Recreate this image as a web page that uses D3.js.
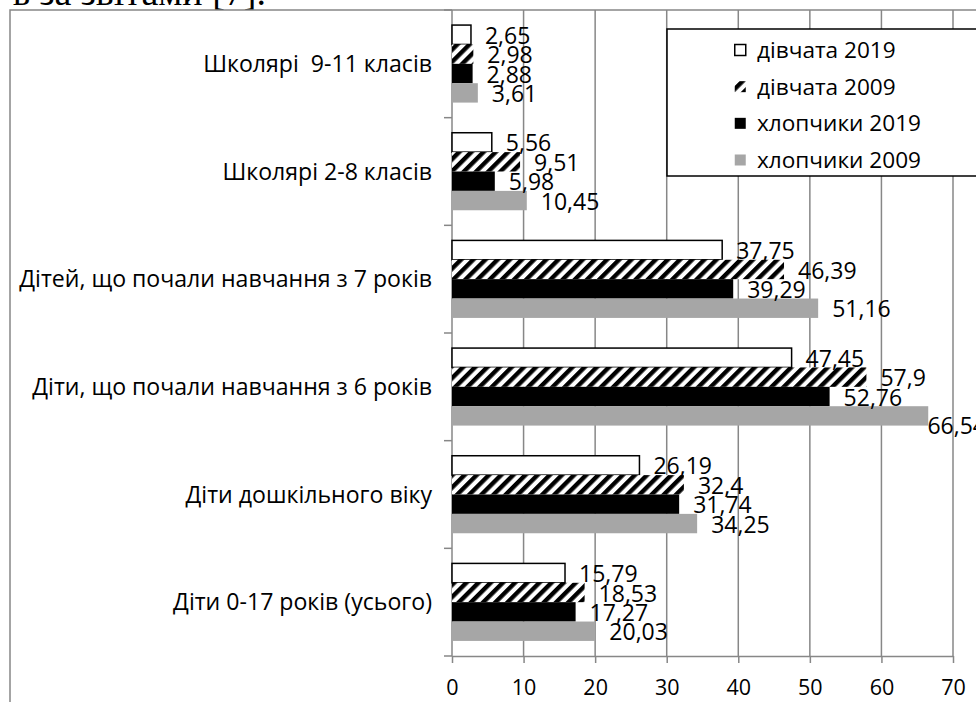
<!DOCTYPE html>
<html>
<head>
<meta charset="utf-8">
<script src="https://cdn.jsdelivr.net/npm/d3@7"></script>
<style>
  body { margin: 0; background: #fff; }
  svg { display: block; }
</style>
</head>
<body>
<script>
// Age / schooling groups, top to bottom
const categories = [
  "Школярі  9-11 класів",
  "Школярі 2-8 класів",
  "Дітей, що почали навчання з 7 років",
  "Діти, що почали навчання з 6 років",
  "Діти дошкільного віку",
  "Діти 0-17 років (усього)"
];
const seriesNames = ["дівчата 2019", "дівчата 2009", "хлопчики 2019", "хлопчики 2009"];
const girls2019 = [2.65, 5.56, 37.75, 47.45, 26.19, 15.79];
const girls2009 = [2.98, 9.51, 46.39, 57.9, 32.4, 18.53];
const boys2019  = [2.88, 5.98, 39.29, 52.76, 31.74, 17.27];
const boys2009  = [3.61, 10.45, 51.16, 66.54, 34.25, 20.03];
const xTicks = [0, 10, 20, 30, 40, 50, 60, 70];

const seriesValues = [girls2019, girls2009, boys2019, boys2009];

const W = 976, H = 702;
const plot = { left: 452, right: 953, top: 10, bottom: 656 };
const gridColor = "#878787";
const sansFont = "'Open Sans', 'Noto Sans', sans-serif";
const fmt = v => String(v).replace(".", ",");

const svg = d3.select("body").append("svg")
  .attr("width", W).attr("height", H)
  .attr("viewBox", `0 0 ${W} ${H}`);

// hatch for the "дівчата 2009" series: wide upward diagonal stripes
const defs = svg.append("defs");
const hatch = defs.append("pattern")
  .attr("id", "hatch")
  .attr("patternUnits", "userSpaceOnUse")
  .attr("width", 8.6).attr("height", 8.6)
  .attr("patternTransform", "rotate(45)");
hatch.append("rect").attr("width", 8.6).attr("height", 8.6).attr("fill", "#fff");
hatch.append("rect").attr("width", 4.4).attr("height", 8.6).attr("fill", "#000");

const seriesStyle = [
  { fill: "#fff", stroke: "#000", sw: 1.5 },
  { fill: "url(#hatch)", stroke: "none", sw: 0 },
  { fill: "#000", stroke: "none", sw: 0 },
  { fill: "#a6a6a6", stroke: "none", sw: 0 }
];

// caption text of the page above the chart, mostly clipped by the top edge
svg.append("text")
  .attr("x", 266).attr("y", 5)
  .attr("text-anchor", "end")
  .attr("font-family", "'Liberation Serif', 'DejaVu Serif', serif")
  .attr("font-size", 38)
  .attr("fill", "#000")
  .text("ь за звітами [7].");

// chart frame
svg.append("path")
  .attr("d", `M10,${H} V10 H${W}`)
  .attr("fill", "none")
  .attr("stroke", gridColor)
  .attr("stroke-width", 1.5);

const x = d3.scaleLinear().domain([0, 70]).range([plot.left, plot.right]);
const y = d3.scaleBand().domain(categories)
  .range([plot.top, plot.bottom])
  .paddingInner(0.28).paddingOuter(0.14);
const ySeries = d3.scaleBand().domain(seriesNames).range([0, y.bandwidth()]);

// vertical gridlines
svg.append("g")
  .selectAll("line")
  .data(xTicks.filter(d => d > 0))
  .join("line")
  .attr("x1", d => x(d)).attr("x2", d => x(d))
  .attr("y1", plot.top).attr("y2", plot.bottom)
  .attr("stroke", gridColor).attr("stroke-width", 1.5);

// bottom value axis
const xAxis = svg.append("g")
  .attr("transform", `translate(0,${plot.bottom})`)
  .call(d3.axisBottom(x).tickValues(xTicks).tickSizeInner(7).tickSizeOuter(0).tickPadding(17)
    .tickFormat(d3.format("d")));
xAxis.select(".domain").attr("stroke", gridColor).attr("stroke-width", 1.5);
xAxis.selectAll(".tick line").attr("stroke", gridColor).attr("stroke-width", 1.5);
xAxis.selectAll(".tick text")
  .attr("font-family", sansFont).attr("font-size", 21.5).attr("fill", "#000");

// left category axis with ticks on the group boundaries
const boundaries = d3.range(categories.length + 1).map(i => plot.top + i * y.step());
const yAxis = svg.append("g");
yAxis.append("line")
  .attr("x1", plot.left).attr("x2", plot.left)
  .attr("y1", plot.top).attr("y2", plot.bottom)
  .attr("stroke", gridColor).attr("stroke-width", 1.5);
yAxis.selectAll("line.tk")
  .data(boundaries)
  .join("line").attr("class", "tk")
  .attr("x1", plot.left - 8).attr("x2", plot.left)
  .attr("y1", d => d).attr("y2", d => d)
  .attr("stroke", gridColor).attr("stroke-width", 1.5);
yAxis.selectAll("text")
  .data(categories)
  .join("text")
  .attr("x", plot.left - 20)
  .attr("y", d => y(d) + y.bandwidth() / 2)
  .attr("dy", "0.35em")
  .attr("text-anchor", "end")
  .attr("font-family", sansFont).attr("font-size", 23.1)
  .attr("fill", "#000")
  .style("white-space", "pre")
  .text(d => d);

// bars
const barData = [];
categories.forEach((c, ci) => {
  seriesNames.forEach((s, si) => {
    barData.push({ cat: c, series: s, si, value: seriesValues[si][ci] });
  });
});

svg.append("g")
  .selectAll("rect")
  .data(barData)
  .join("rect")
  .attr("x", x(0))
  .attr("y", d => y(d.cat) + ySeries(d.series))
  .attr("width", d => x(d.value) - x(0))
  .attr("height", ySeries.bandwidth())
  .attr("fill", d => seriesStyle[d.si].fill)
  .attr("stroke", d => seriesStyle[d.si].stroke)
  .attr("stroke-width", d => seriesStyle[d.si].sw);

// value labels past the bar ends; labels that would run off the chart are pulled back and dropped a little
const labelLimit = 986;
const labels = svg.append("g")
  .selectAll("text")
  .data(barData)
  .join("text")
  .attr("font-family", sansFont).attr("font-size", 23)
  .attr("fill", "#000")
  .attr("dy", "0.35em")
  .text(d => fmt(d.value));
labels.each(function (d) {
  const w = this.getComputedTextLength();
  let lx = x(d.value) + 14;
  let ly = y(d.cat) + ySeries(d.series) + ySeries.bandwidth() / 2 + 1;
  if (lx + w > labelLimit) { lx = labelLimit - w; ly += 9; }
  d3.select(this).attr("x", lx).attr("y", ly);
});

// legend
const legend = svg.append("g");
legend.append("rect")
  .attr("x", 667).attr("y", 29)
  .attr("width", 340).attr("height", 147)
  .attr("fill", "#fff").attr("stroke", "#000").attr("stroke-width", 1.5);
const rowY = d3.scalePoint().domain(seriesNames).range([50, 160]);
const items = legend.selectAll("g.item")
  .data(seriesNames)
  .join("g").attr("class", "item")
  .attr("transform", d => `translate(734,${rowY(d)})`);
items.append("rect")
  .attr("x", 0.75).attr("y", -5.5)
  .attr("width", 11).attr("height", 11)
  .attr("fill", (d, i) => seriesStyle[i].fill)
  .attr("stroke", (d, i) => seriesStyle[i].stroke)
  .attr("stroke-width", (d, i) => seriesStyle[i].sw);
items.append("text")
  .attr("x", 23).attr("dy", "0.35em")
  .attr("font-family", sansFont).attr("font-size", 22.6)
  .attr("fill", "#000")
  .text(d => d);
</script>
</body>
</html>
